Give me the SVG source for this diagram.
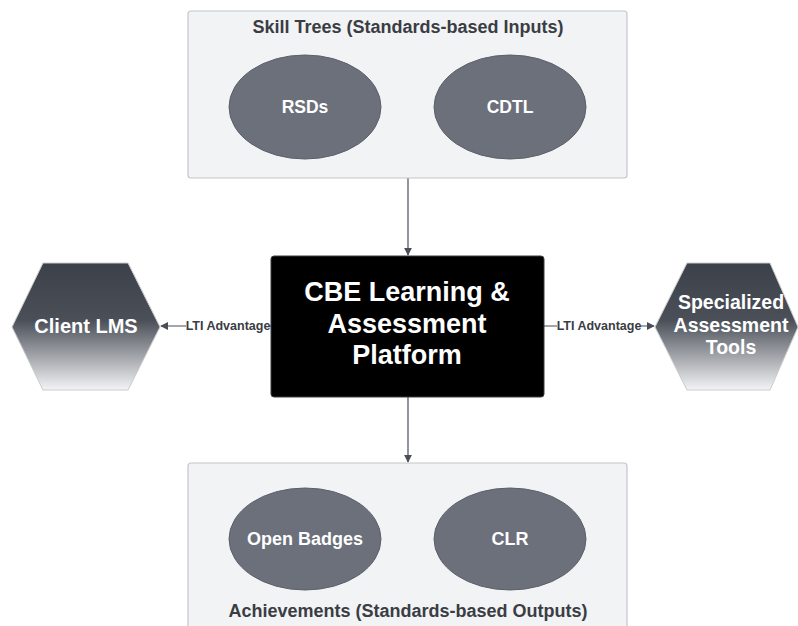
<svg xmlns="http://www.w3.org/2000/svg" width="798" height="626" viewBox="0 0 798 626">
<defs>
<style>
.box{fill:#f2f3f5;stroke:#c4c6ca;stroke-width:1.2}
.ell{fill:#6b707b;stroke:#5b606a;stroke-width:1}
.t{font-family:"Liberation Sans",Arial,sans-serif;font-weight:bold;text-anchor:middle;dominant-baseline:central}
.title{font-size:18px;fill:#3a3d43}
.w{fill:#ffffff}
.line{stroke:#4a4e56;stroke-width:1.2;fill:none}
.lbl{font-size:12.5px;fill:#3a3d43}
</style>
<linearGradient id="hexg" x1="0" y1="0" x2="0" y2="1">
<stop offset="0" stop-color="#3b4049"/>
<stop offset="0.45" stop-color="#4a4f58"/>
<stop offset="1" stop-color="#f4f4f6"/>
</linearGradient>
<marker id="arr" viewBox="0 0 10 10" refX="9" refY="5" markerWidth="8" markerHeight="8" orient="auto-start-reverse" markerUnits="userSpaceOnUse">
<path d="M0,0 L10,5 L0,10 z" fill="#4a4e56"/>
</marker>
</defs>
<rect width="798" height="626" fill="#ffffff"/>
<g id="connectors">
<line class="line" x1="408" y1="178" x2="408" y2="255" marker-end="url(#arr)"/>
<line class="line" x1="408" y1="397" x2="408" y2="462" marker-end="url(#arr)"/>
<line class="line" x1="271" y1="326" x2="161" y2="326" marker-end="url(#arr)"/>
<line class="line" x1="544" y1="326" x2="654" y2="326" marker-end="url(#arr)"/>
<rect x="186" y="318" width="84" height="16" fill="#ffffff"/>
<text class="t lbl" x="228" y="326">LTI Advantage</text>
<rect x="557" y="318" width="84" height="16" fill="#ffffff"/>
<text class="t lbl" x="599" y="326">LTI Advantage</text>
</g>
<g id="skill-trees">
<rect class="box" x="188" y="11" width="439" height="167" rx="3"/>
<text class="t title" x="408" y="27">Skill Trees (Standards-based Inputs)</text>
</g>
<g id="rsds">
<ellipse class="ell" cx="305" cy="107" rx="76" ry="52"/>
<text class="t w" x="305" y="107" font-size="17.5">RSDs</text>
</g>
<g id="cdtl">
<ellipse class="ell" cx="510" cy="107" rx="76" ry="52"/>
<text class="t w" x="510" y="107" font-size="17.5">CDTL</text>
</g>
<g id="platform">
<rect x="271" y="256" width="273" height="141" rx="3" fill="#000000" stroke="#3a3d43" stroke-width="1"/>
<text class="t w" x="407" y="292" font-size="27">CBE Learning &amp;</text>
<text class="t w" x="407" y="324" font-size="27">Assessment</text>
<text class="t w" x="407" y="355" font-size="27">Platform</text>
</g>
<g id="client-lms">
<polygon points="12,327 43,263 128,263 160,327 128,390 43,390" fill="url(#hexg)" stroke="#c8cacd" stroke-width="1"/>
<text class="t w" x="86" y="326" font-size="20">Client LMS</text>
</g>
<g id="assessment-tools">
<polygon points="655,327 687,263 770,263 798,327 770,390 687,390" fill="url(#hexg)" stroke="#c8cacd" stroke-width="1"/>
<text class="t w" x="731" y="302" font-size="19.5">Specialized</text>
<text class="t w" x="731" y="325" font-size="19.5">Assessment</text>
<text class="t w" x="731" y="347" font-size="19.5">Tools</text>
</g>
<g id="achievements">
<rect class="box" x="188" y="463" width="439" height="180" rx="3"/>
<text class="t title" x="408" y="611">Achievements (Standards-based Outputs)</text>
</g>
<g id="open-badges">
<ellipse class="ell" cx="305" cy="539" rx="76" ry="51"/>
<text class="t w" x="305" y="539" font-size="18">Open Badges</text>
</g>
<g id="clr">
<ellipse class="ell" cx="510" cy="539" rx="76" ry="51"/>
<text class="t w" x="510" y="539" font-size="18">CLR</text>
</g>
</svg>
